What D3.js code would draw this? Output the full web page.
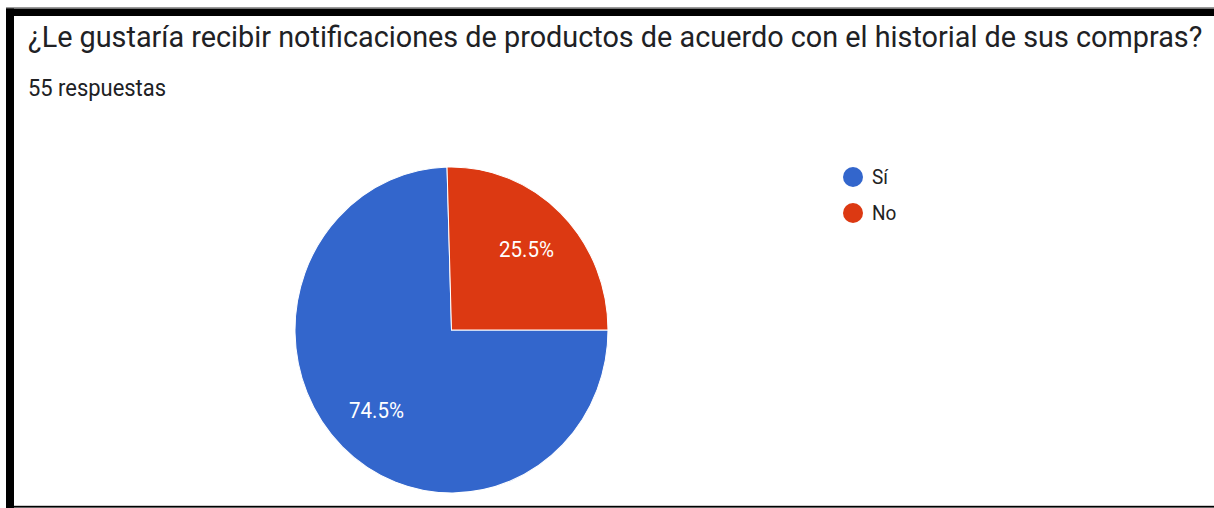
<!DOCTYPE html>
<html>
<head>
<meta charset="utf-8">
<script src="https://cdn.jsdelivr.net/npm/d3@7"></script>
<style>
  html, body { margin: 0; padding: 0; background: #fff; }
  svg { display: block; }
</style>
</head>
<body>
<svg id="chart" width="1214" height="508"></svg>
<script>
// ---- data ----
const titleText = "¿Le gustaría recibir notificaciones de productos de acuerdo con el historial de sus compras?";
const subtitleText = "55 respuestas";
const categories = ["Sí", "No"];
const counts = [41, 14];
const colors = ["#3366cc", "#dc3912"];

const W = 1214, H = 508;
const svg = d3.select("#chart");
const sy = 163 / 156.5; // vertical stretch seen in the reference

// frame
svg.append("rect").attr("x", 6).attr("y", 7).attr("width", W - 6).attr("height", 1.2).attr("fill", "#9a9a9a");
svg.append("rect").attr("x", 6).attr("y", 8.5).attr("width", W - 6).attr("height", 7.5).attr("fill", "#000");
svg.append("rect").attr("x", 6).attr("y", 8.5).attr("width", 8).attr("height", H - 8.5).attr("fill", "#000");
svg.append("rect").attr("x", 6).attr("y", 505.8).attr("width", W - 6).attr("height", 1.8).attr("fill", "#000");

// title and subtitle fitted to their measured widths
function fitText(sel, targetWidth) {
  const w = sel.node().getComputedTextLength();
  const fs = parseFloat(sel.attr("font-size"));
  sel.attr("font-size", fs * targetWidth / w);
}
const title = svg.append("g").attr("transform", `translate(28,47) scale(1,${sy})`)
  .append("text")
  .attr("font-family", "Roboto, 'Noto Sans', sans-serif")
  .attr("font-size", 24)
  .attr("fill", "#202124")
  .text(titleText);
fitText(title, 1175);

const sub = svg.append("g").attr("transform", `translate(28,96) scale(1,1.1)`)
  .append("text")
  .attr("font-family", "Roboto, 'Noto Sans', sans-serif")
  .attr("font-size", 18)
  .attr("fill", "#202124")
  .text(subtitleText);
fitText(sub, 138);

// pie
const total = d3.sum(counts);
const data = categories.map((c, i) => ({ cat: c, value: counts[i], color: colors[i] }));
const cx = 451.5, cy = 330, r = 156.5;
const pie = d3.pie().value(d => d.value).sort(null)
  .startAngle(Math.PI / 2).endAngle(Math.PI / 2 + 2 * Math.PI);
const arc = d3.arc().innerRadius(0).outerRadius(r);
const labelArc = d3.arc().innerRadius(r * 0.687).outerRadius(r * 0.687);

const g = svg.append("g").attr("transform", `translate(${cx},${cy}) scale(1,${sy})`);
const arcs = pie(data);
g.selectAll("path.slice").data(arcs).join("path")
  .attr("class", "slice")
  .attr("d", arc)
  .attr("fill", d => d.data.color)
  .attr("stroke", "#fff")
  .attr("stroke-width", 1);

g.selectAll("text.pct").data(arcs).join("text")
  .attr("class", "pct")
  .attr("transform", d => { const [x, y] = labelArc.centroid(d); return `translate(${x},${y})`; })
  .attr("text-anchor", "middle")
  .attr("dy", "0.36em")
  .attr("font-family", "Roboto, Arial, sans-serif")
  .attr("font-size", 20.5)
  .attr("fill", "#fff")
  .text(d => (d.data.value / total * 100).toFixed(1) + "%");

// legend
const legend = svg.append("g").attr("transform", "translate(853,177)");
const items = legend.selectAll("g.item").data(data).join("g")
  .attr("class", "item")
  .attr("transform", (d, i) => `translate(0,${i * 36})`);
items.append("circle").attr("r", 10).attr("fill", d => d.color);
items.append("g").attr("transform", `translate(19,0) scale(1,1.08)`)
  .append("text")
  .attr("dy", "0.36em")
  .attr("font-family", "Roboto, 'Noto Sans', sans-serif")
  .attr("font-size", 19)
  .attr("fill", "#222")
  .text(d => d.cat);
</script>
</body>
</html>
